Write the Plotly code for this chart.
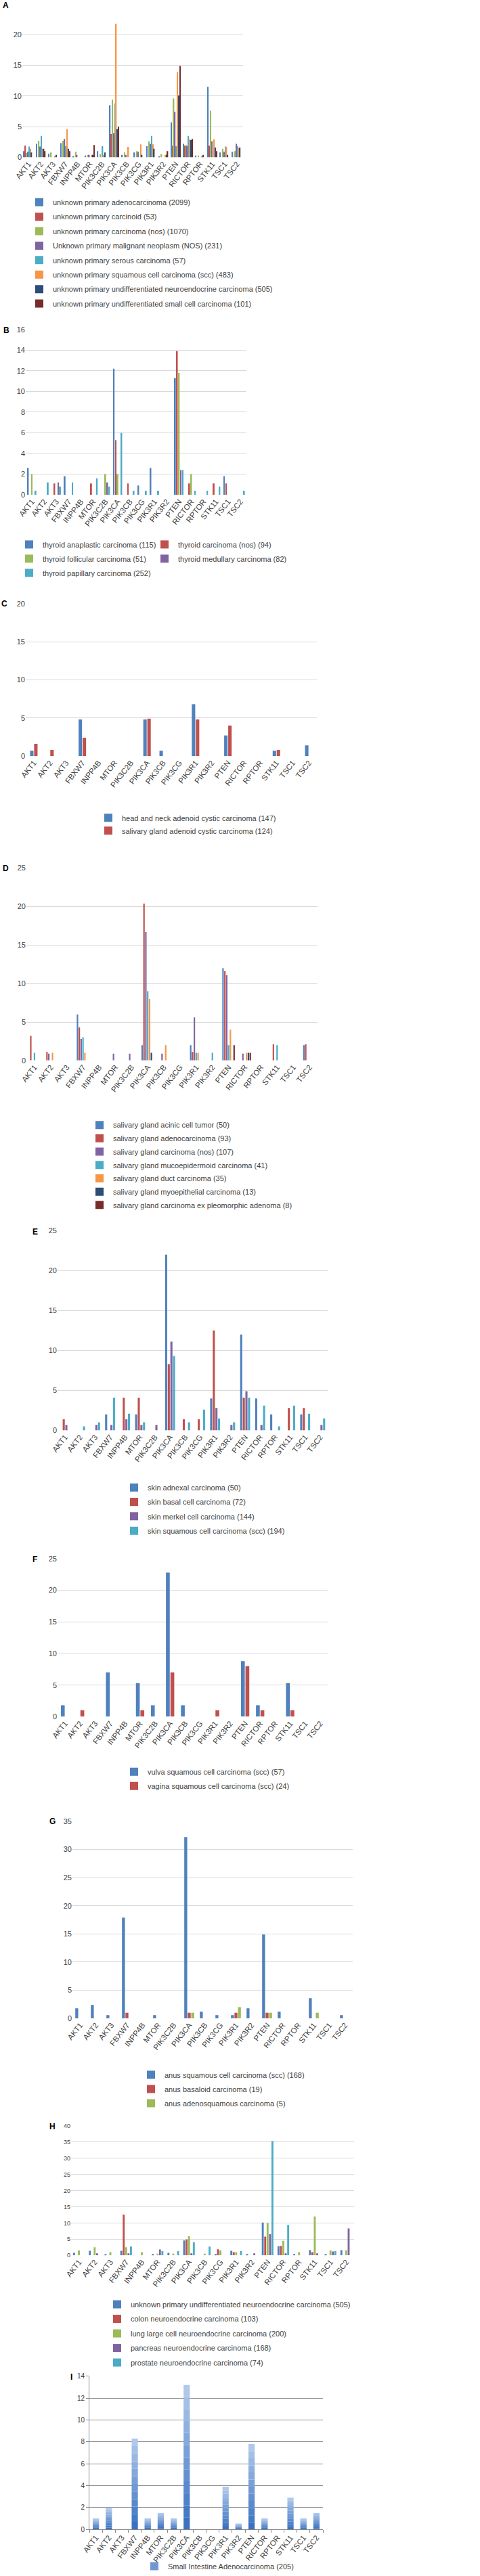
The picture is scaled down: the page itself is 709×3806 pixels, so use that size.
import plotly.graph_objects as go

# ------------------------------------------------------------------
# Data: % of cases with alteration, per gene, per tumour type
# ------------------------------------------------------------------
GENES = ["AKT1", "AKT2", "AKT3", "FBXW7", "INPP4B", "MTOR", "PIK3C2B", "PIK3CA",
         "PIK3CB", "PIK3CG", "PIK3R1", "PIK3R2", "PTEN", "RICTOR", "RPTOR",
         "STK11", "TSC1", "TSC2"]

# A - unknown primary
a_adeno = [1.0, 2.2, 0.6, 2.3, 0.2, 0.3, 1.0, 8.5, 0.4, 0.8, 1.8, 0.1, 5.7, 2.2, 0.3, 11.5, 0.8, 0.9]
a_carcinoid = [1.9, 0, 0, 0, 0, 0, 0, 3.8, 0, 0, 0, 0, 1.9, 1.9, 0, 1.9, 0, 0]
a_nos = [0.7, 2.7, 0.8, 2.7, 0.9, 0.4, 0.5, 9.4, 0.8, 1.0, 2.6, 0.5, 9.6, 2.0, 0.3, 7.6, 1.4, 1.0]
a_malig = [0.9, 1.75, 0, 3.0, 0.4, 0.4, 0, 3.9, 0.4, 0.9, 2.2, 0, 7.4, 1.8, 0, 2.6, 0.9, 2.2]
a_serous = [1.75, 3.5, 0, 1.8, 0, 0, 1.8, 8.8, 0, 0, 3.5, 0, 1.8, 3.5, 0, 0, 1.75, 1.8]
a_scc = [1.4, 1.4, 0.2, 4.6, 0, 0.4, 0.4, 21.8, 1.7, 2.1, 2.1, 0.4, 13.9, 2.9, 0.2, 2.9, 1.7, 1.5]
a_une = [0.8, 1.4, 0.4, 1.4, 0, 0.4, 0.8, 4.6, 0, 0.4, 1.4, 0.4, 10.1, 2.8, 0.4, 1.6, 0.4, 1.6]
a_small = [0, 1.0, 0, 1.0, 0, 2.0, 0, 5.0, 0, 0, 0, 1.0, 14.9, 3.0, 0, 1.0, 0, 0]

# B - thyroid
b_anap = [2.6, 0, 0, 1.8, 0, 0, 0, 12.2, 0, 0.9, 2.6, 0, 11.3, 0, 0, 0, 1.8, 0]
b_nos = [0, 0, 1.1, 0, 0, 1.1, 0, 5.3, 1.1, 0, 0, 0, 13.9, 1.1, 0, 1.1, 1.1, 0]
b_foll = [2.0, 0, 0, 0, 0, 0, 2.0, 2.0, 0, 0, 0, 0, 11.8, 2.0, 0, 0, 0, 0]
b_medul = [0, 0, 1.2, 0, 0, 0, 1.2, 0, 0, 0, 0, 0, 2.4, 0, 0, 0, 0, 0]
b_pap = [0.4, 1.2, 0.8, 1.2, 0, 1.6, 0.8, 6.0, 0.4, 0.4, 0.4, 0, 2.4, 0.4, 0.4, 0.8, 0, 0.4]

# C - adenoid cystic
c_hn = [0.7, 0, 0, 4.8, 0, 0, 0, 4.8, 0.7, 0, 6.8, 0, 2.7, 0, 0, 0.7, 0, 1.4]
c_sg = [1.6, 0.8, 0, 2.4, 0, 0, 0, 4.9, 0, 0, 4.8, 0, 4.0, 0, 0, 0.8, 0, 0]

# D - salivary gland
d_acinic = [0, 0, 0, 6.0, 0, 0, 0, 2.0, 0, 0, 2.0, 0, 12.0, 0, 0, 0, 0, 2.0]
d_adeno = [3.2, 1.1, 0, 4.3, 0, 0, 0, 20.4, 0, 0, 1.1, 0, 11.6, 0, 0, 2.1, 0, 2.1]
d_nos = [0, 0.9, 0, 2.8, 0, 0.9, 0.9, 16.7, 0.9, 0, 5.6, 0, 11.1, 0.9, 0, 0, 0, 0]
d_muco = [1.0, 0, 0, 3.0, 0, 0, 0, 9.0, 0, 0, 1.0, 1.0, 2.0, 0, 0, 2.0, 0, 0]
d_duct = [0, 1.0, 0, 1.0, 0, 0, 0, 8.0, 2.0, 0, 1.0, 0, 4.0, 1.0, 0, 0, 0, 0]
d_myo = [0, 0, 0, 0, 0, 0, 0, 1.0, 0, 0, 0, 0, 0, 1.0, 0, 0, 0, 0]
d_expl = [0, 0, 0, 0, 0, 0, 0, 0, 0, 0, 0, 0, 2.0, 1.0, 0, 0, 0, 0]

# E - skin
e_adn = [0, 0, 0, 2.0, 0, 2.0, 0, 22.0, 0, 0, 4.0, 0, 12.0, 4.0, 2.0, 0, 2.0, 0]
e_bcc = [1.4, 0, 0, 0, 4.1, 4.1, 0, 8.3, 1.4, 1.4, 12.5, 0, 4.1, 0, 0, 2.8, 2.8, 0]
e_merkel = [0.7, 0, 0.7, 0.7, 1.4, 0.7, 0.7, 11.1, 0, 0, 2.8, 0.7, 4.9, 0.7, 0, 0, 0, 0.7]
e_scc = [0, 0.5, 1.0, 4.1, 2.1, 1.0, 0, 9.3, 1.0, 2.6, 1.5, 1.0, 4.1, 3.1, 0.5, 3.1, 2.1, 1.5]

# F - vulva / vagina
f_vulva = [1.8, 0, 0, 7.0, 0, 5.3, 1.8, 22.8, 1.8, 0, 0, 0, 8.8, 1.8, 0, 5.3, 0, 0]
f_vagina = [0, 1.0, 0, 0, 0, 1.0, 0, 7.0, 0, 0, 1.0, 0, 8.0, 1.0, 0, 1.0, 0, 0]

# G - anus
g_scc = [1.8, 2.4, 0.6, 17.9, 0, 0.6, 0, 32.2, 1.2, 0.6, 0.6, 1.8, 14.9, 1.2, 0, 3.6, 0, 0.6]
g_basaloid = [0, 0, 0, 1.0, 0, 0, 0, 1.0, 0, 0, 1.0, 0, 1.0, 0, 0, 0, 0, 0]
g_adenosq = [0, 0, 0, 0, 0, 0, 0, 1.0, 0, 0, 2.0, 0, 1.0, 0, 0, 1.0, 0, 0]

# H - neuroendocrine
h_une = [0.8, 1.4, 0.4, 1.4, 0, 0.4, 0.8, 4.6, 0, 0.4, 1.4, 0.4, 10.1, 2.8, 0.4, 1.6, 0.4, 1.6]
h_colon = [0, 0, 0, 12.6, 0, 0, 0, 4.9, 0, 1.9, 1.0, 0, 5.8, 2.9, 0, 1.0, 0, 0]
h_lung = [1.5, 2.5, 1.0, 2.5, 1.0, 0.5, 0.5, 5.9, 0.5, 1.5, 1.0, 0, 10.0, 4.5, 1.0, 12.0, 1.5, 1.5]
h_panc = [0, 0.6, 0, 0.6, 0, 1.8, 0, 0.6, 0, 0, 0, 0.6, 6.5, 0.6, 0, 0.6, 1.2, 8.3]
h_prost = [0, 0, 0, 2.7, 0, 1.3, 1.3, 4.0, 2.7, 0, 1.3, 0, 35.3, 9.4, 0, 0, 1.3, 0]

# I - small intestine
i_si = [1.0, 2.0, 0, 8.3, 1.0, 1.5, 1.0, 13.2, 0, 0, 3.9, 0.5, 7.8, 1.0, 0, 2.9, 1.0, 1.5]

# ------------------------------------------------------------------
# Style
# ------------------------------------------------------------------
W, H = 709, 3806
FONT = "Liberation Sans Narrow, Arial Narrow, Liberation Sans, sans-serif"
TXT = "#404040"
BLUE, RED, GREEN, PURPLE = "#4F81BD", "#C0504D", "#9BBB59", "#8064A2"
AQUA, ORANGE, NAVY, DRED = "#4BACC6", "#F79646", "#2C4D75", "#772C2A"
LEG_SIZE = 11
XTICK_SIZE = 11.5


def px_x(v):
    return v / W


def px_y(v):
    return 1 - v / H


fig = go.Figure()
n_leg = [0]


def new_legend(text_x, first_y, gap):
    n_leg[0] += 1
    lid = "legend" if n_leg[0] == 1 else f"legend{n_leg[0]}"
    fig.update_layout(**{lid: dict(
        x=px_x(text_x - 35), y=px_y(first_y - 11), xanchor="left", yanchor="top",
        tracegroupgap=gap, bgcolor="rgba(0,0,0,0)", borderwidth=0,
        font=dict(size=LEG_SIZE, color=TXT, family=FONT))})
    return lid


def axes(n, box, ymax, dtick, ytick_size=11, grid="#D9D9D9", boxed=False):
    x0, x1, ytop, ybot = box
    xk = "xaxis" if n == 1 else f"xaxis{n}"
    yk = "yaxis" if n == 1 else f"yaxis{n}"
    xa = "x" if n == 1 else f"x{n}"
    ya = "y" if n == 1 else f"y{n}"
    fig.update_layout(**{
        xk: dict(domain=[px_x(x0), px_x(x1)], anchor=ya, type="category",
                 categoryorder="array", categoryarray=GENES, range=[-0.5, 17.5],
                 tickangle=-52, tickfont=dict(size=XTICK_SIZE, color=TXT, family=FONT),
                 showgrid=False, zeroline=False, automargin=False, fixedrange=True,
                 showline=boxed, linecolor="#868686", linewidth=1,
                 ticks="outside" if boxed else "", tickson="boundaries",
                 tickcolor="#868686", ticklen=4),
        yk: dict(domain=[px_y(ybot), px_y(ytop)], anchor=xa, range=[0, ymax],
                 tick0=0, dtick=dtick, showgrid=True, gridcolor=grid, gridwidth=1,
                 zeroline=False, automargin=False, fixedrange=True,
                 tickfont=dict(size=ytick_size, color=TXT, family=FONT),
                 showline=boxed, linecolor="#868686", linewidth=1,
                 ticks="outside" if boxed else "", tickcolor="#868686", ticklen=4),
    })
    return xa, ya


def letter(text, x, y):
    fig.add_annotation(text=f"<b>{text}</b>", xref="paper", yref="paper",
                       x=px_x(x), y=px_y(y), xanchor="left", yanchor="middle",
                       showarrow=False,
                       font=dict(size=12, color="black", family="Liberation Sans, sans-serif"))


def panel(n, tag, series, box, ymax, dtick, gfrac, fill, legends, ytick_size=11):
    xa, ya = axes(n, box, ymax, dtick, ytick_size)
    ns = len(series)
    w = gfrac / ns
    leg_of = {}
    for text_x, first_y, gap, idxs in legends:
        lid = new_legend(text_x, first_y, gap)
        for i in idxs:
            leg_of[i] = lid
    for k, (name, vals, color) in enumerate(series):
        fig.add_trace(go.Bar(
            x=GENES, y=vals, name=name, xaxis=xa, yaxis=ya,
            marker=dict(color=color, line_width=0),
            offset=-gfrac / 2 + k * w + w * (1 - fill) / 2, width=w * fill,
            legend=leg_of[k], legendgroup=f"{tag}{k}"))


# A
panel(1, "A", [
    ("unknown primary adenocarcinoma (2099)", a_adeno, BLUE),
    ("unknown primary carcinoid (53)", a_carcinoid, RED),
    ("unknown primary carcinoma (nos) (1070)", a_nos, GREEN),
    ("Unknown primary malignant neoplasm (NOS) (231)", a_malig, PURPLE),
    ("unknown primary serous carcinoma (57)", a_serous, AQUA),
    ("unknown primary squamous cell carcinoma (scc) (483)", a_scc, ORANGE),
    ("unknown primary undifferentiated neuroendocrine carcinoma (505)", a_une, NAVY),
    ("unknown primary undifferentiated small cell carcinoma (101)", a_small, DRED),
], (33, 359, 6, 233), 25, 5, 0.8, 0.8, [(73, 296, 2.4, range(8))])
letter("A", 2, 8)

# B
panel(2, "B", [
    ("thyroid anaplastic carcinoma (115)", b_anap, BLUE),
    ("thyroid carcinoma (nos) (94)", b_nos, RED),
    ("thyroid follicular carcinoma (51)", b_foll, GREEN),
    ("thyroid medullary carcinoma (82)", b_medul, PURPLE),
    ("thyroid papillary carcinoma (252)", b_pap, AQUA),
], (38, 364, 488, 733), 16, 2, 0.78, 0.7,
    [(58, 803, 2, [0, 2, 4]), (258, 803, 2, [1, 3])])
letter("B", 3, 489)

# C
panel(3, "C", [
    ("head and neck adenoid cystic carcinoma (147)", c_hn, BLUE),
    ("salivary gland adenoid cystic carcinoma (124)", c_sg, RED),
], (38, 468, 894, 1120), 20, 5, 0.5, 0.85, [(175, 1208, 0, [0, 1])])
letter("C", 0, 894)

# D
panel(4, "D", [
    ("salivary gland acinic cell tumor (50)", d_acinic, BLUE),
    ("salivary gland adenocarcinoma (93)", d_adeno, RED),
    ("salivary gland carcinoma (nos) (107)", d_nos, PURPLE),
    ("salivary gland mucoepidermoid carcinoma (41)", d_muco, AQUA),
    ("salivary gland duct carcinoma (35)", d_duct, ORANGE),
    ("salivary gland myoepithelial carcinoma (13)", d_myo, NAVY),
    ("salivary gland carcinoma ex pleomorphic adenoma (8)", d_expl, DRED),
], (39, 469, 1286, 1571), 25, 5, 0.8, 0.8, [(162, 1663, 0.7, range(7))])
letter("D", 2, 1286)

# E
panel(5, "E", [
    ("skin adnexal carcinoma (50)", e_adn, BLUE),
    ("skin basal cell carcinoma (72)", e_bcc, RED),
    ("skin merkel cell carcinoma (144)", e_merkel, PURPLE),
    ("skin squamous cell carcinoma (scc) (194)", e_scc, AQUA),
], (85, 484, 1823, 2119), 25, 5, 0.7, 0.8, [(213, 2200, 2.3, range(4))])
letter("E", 46, 1825)

# F
panel(6, "F", [
    ("vulva squamous cell carcinoma (scc) (57)", f_vulva, BLUE),
    ("vagina squamous cell carcinoma (scc) (24)", f_vagina, RED),
], (85, 484, 2309, 2543), 25, 5, 0.6, 0.85, [(213, 2621, 2, [0, 1])])
letter("F", 46, 2310)

# G
panel(7, "G", [
    ("anus squamous cell carcinoma (scc) (168)", g_scc, BLUE),
    ("anus basaloid carcinoma (19)", g_basaloid, RED),
    ("anus adenosquamous carcinoma (5)", g_adenosq, GREEN),
], (107, 521, 2698, 2990), 35, 5, 0.67, 0.85, [(238, 3070, 2, range(3))])
letter("G", 71, 2698)

# H
panel(8, "H", [
    ("unknown primary undifferentiated neuroendocrine carcinoma (505)", h_une, BLUE),
    ("colon neuroendocrine carcinoma (103)", h_colon, RED),
    ("lung large cell neuroendocrine carcinoma (200)", h_lung, GREEN),
    ("pancreas neuroendocrine carcinoma (168)", h_panc, PURPLE),
    ("prostate neuroendocrine carcinoma (74)", h_prost, AQUA),
], (105, 523, 3149, 3341), 40, 5, 0.77, 0.8, [(188, 3410, 2.5, range(5))],
    ytick_size=9)
letter("H", 71, 3150)

# I - single series, Excel 2007 style gradient bars
xa, ya = axes(9, (132, 477, 3520, 3747), 14, 2, ytick_size=10,
              grid="#8C8C8C", boxed=True)
lid = new_legend(243, 3798, 0)
n_seg = 12
dark, light = (58, 114, 192), (176, 200, 235)
for s in range(n_seg):
    t = s / (n_seg - 1)
    col = "rgb(%d,%d,%d)" % tuple(round(d + (l - d) * t) for d, l in zip(dark, light))
    fig.add_trace(go.Bar(
        x=GENES, y=[v / n_seg for v in i_si], base=[v * s / n_seg for v in i_si],
        name="Small Intestine Adenocarcinoma (205)", xaxis=xa, yaxis=ya,
        marker=dict(color=col, line_width=0), offset=-0.24, width=0.48,
        legend=lid, legendgroup="I", showlegend=(s == 5), hoverinfo="skip"))
letter("I", 102, 3521)

fig.update_layout(
    width=W, height=H, margin=dict(l=0, r=0, t=0, b=0),
    template="none", paper_bgcolor="white", plot_bgcolor="white",
    font=dict(family=FONT, color=TXT), barmode="group", showlegend=True,
)

fig.write_html("out.html", config={"displayModeBar": False},
               post_script="document.body.style.margin='0';")
